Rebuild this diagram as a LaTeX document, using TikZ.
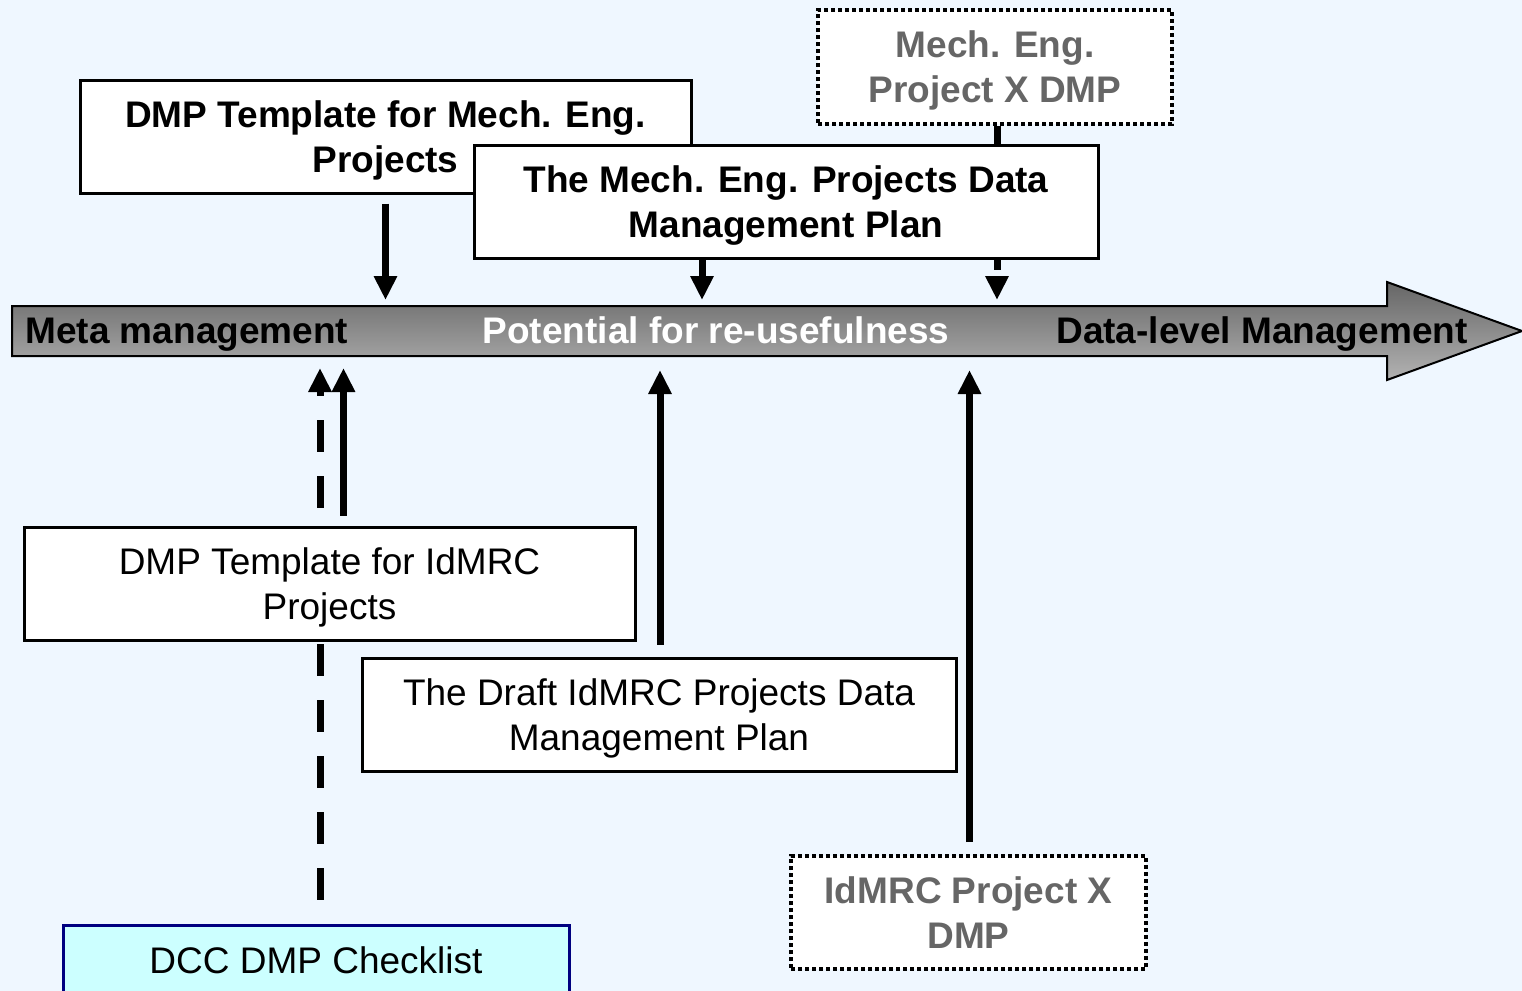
\documentclass[tikz,border=0pt]{standalone}
\usepackage{fontspec}
\setmainfont{Liberation Sans}
\usetikzlibrary{arrows.meta,calc}
\definecolor{paleBlue}{RGB}{239,247,255}
\definecolor{checkCyan}{RGB}{204,255,255}
\definecolor{checkNavy}{RGB}{0,0,128}
\definecolor{ghostGray}{RGB}{102,102,102}
\newcommand{\boxFont}{\fontsize{18.5}{22.5}\selectfont}
\tikzstyle{planBox}=[shape = rectangle, draw, fill = white, line width = 1.5pt, align = center, minimum height = 56.5pt, inner sep = 0pt, text depth = 0pt, font = \boxFont]
\tikzstyle{boldBox}=[planBox, font = \boxFont\bfseries]
\tikzstyle{dottedBox}=[boldBox, line width = 2pt, dash pattern = on 2pt off 1.5pt, text = ghostGray]
\tikzstyle{linkArrow}=[line width = 3.5pt, -{Triangle[width = 11pt, length = 12pt]}]
\tikzstyle{linkDashed}=[linkArrow, dash pattern = on 16pt off 12pt]

\begin{document}
\begin{tikzpicture}[x = 0.5pt, y = -0.5pt]
\tikzstyle{barText}=[font = \boxFont\bfseries, inner sep = 0pt]
\useasboundingbox (0,0) rectangle (1522,991);
\fill[paleBlue] (0,0) rectangle (1522,991);
\shade[top color = black!60, bottom color = black!30, draw = black, line width = 1pt]
  (12,306) -- (1387,306) -- (1387,282) -- (1522,331) -- (1387,380) -- (1387,356) -- (12,356) -- cycle;
\node[barText, anchor = base west] (t0) at (25,343) {Meta management};
\node[barText, anchor = base, text = white] (t1) at (716,343) {Potential for re-usefulness};
\node[barText, anchor = base] (t2) at (1262,343) {Data-level Management};
\coordinate (barTop) at (0,300);
\coordinate (barBot) at (0,368);
\node[dottedBox, minimum width = 177pt, minimum height = 57pt] (v2) at (995,67) {Mech. Eng.\\Project X DMP};
\draw[linkDashed] ($(v2.south)+(2,0)$) -- ($(v2.south |- barTop)+(2,0)$);
\node[boldBox, minimum width = 305.5pt] (v0) at (385.5,136.5) {DMP Template for Mech. Eng.\\Projects};
\node[boldBox, minimum width = 312pt] (v1) at (786,201.5) {The Mech. Eng. Projects Data\\Management Plan};
\coordinate (p1) at ($(v1.south)+(-84,0)$);
\draw[linkArrow] ($(v0.south)+(0,9)$) -- (v0.south |- barTop);
\draw[linkArrow] (p1) -- (p1 |- barTop);
\node[planBox, draw = checkNavy, fill = checkCyan, minimum width = 253pt, minimum height = 35pt] (v6) at (316,960) {DCC DMP Checklist};
\coordinate (p6) at ($(v6.north)+(4,-24)$);
\draw[linkDashed] (p6) -- (p6 |- barBot);
\node[planBox, minimum width = 305.5pt] (v3) at (329.5,583.5) {DMP Template for IdMRC\\Projects};
\node[planBox, minimum width = 297pt] (v4) at (659,714.5) {The Draft IdMRC Projects Data\\Management Plan};
\node[dottedBox, minimum width = 177.5pt] (v5) at (968.5,912.5) {IdMRC Project X\\DMP};
\coordinate (p3) at ($(v3.north)+(14,-10)$);
\draw[linkArrow] (p3) -- (p3 |- barBot);
\draw[linkArrow] ($(v4.north)+(1,-12)$) -- ($(v4.north |- barBot)+(1,2)$);
\draw[linkArrow] ($(v5.north)+(1,-12)$) -- ($(v5.north |- barBot)+(1,2)$);
\end{tikzpicture}
\end{document}
